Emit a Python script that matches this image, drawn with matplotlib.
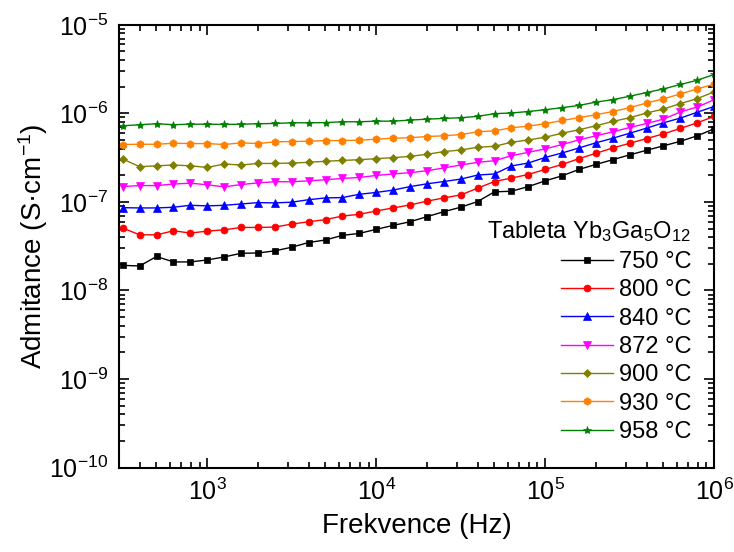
import numpy as np
import matplotlib.pyplot as plt
from matplotlib.ticker import LogLocator, NullFormatter

plt.rcParams['font.family'] = ['Liberation Sans', 'DejaVu Sans']
plt.rcParams['mathtext.fontset'] = 'custom'
plt.rcParams['mathtext.rm'] = 'Liberation Sans'
plt.rcParams['mathtext.it'] = 'Liberation Sans:italic'
plt.rcParams['mathtext.bf'] = 'Liberation Sans:bold'

# measurement frequencies (Hz)
freq = [316, 398, 501, 631, 794, 1000, 1259, 1585, 1995, 2512, 3162, 3981,
        5012, 6310, 7943, 10000, 12589, 15849, 19953, 25119, 31623, 39811,
        50119, 63096, 79433, 100000, 125893, 158489, 199526, 251189, 316228,
        398107, 501187, 630957, 794328, 1000000]

y_750 = [1.92e-8, 1.89e-8, 2.42e-8, 2.10e-8, 2.10e-8, 2.21e-8, 2.39e-8, 2.63e-8,
         2.65e-8, 2.80e-8, 3.08e-8, 3.48e-8, 3.72e-8, 4.19e-8, 4.41e-8, 4.90e-8,
         5.43e-8, 5.97e-8, 6.81e-8, 7.76e-8, 8.71e-8, 1.01e-7, 1.30e-7, 1.32e-7,
         1.49e-7, 1.73e-7, 1.97e-7, 2.33e-7, 2.65e-7, 3.00e-7, 3.40e-7, 3.83e-7,
         4.30e-7, 4.84e-7, 5.58e-7, 6.70e-7]
y_800 = [5.07e-8, 4.25e-8, 4.25e-8, 4.72e-8, 4.45e-8, 4.68e-8, 4.84e-8, 5.15e-8,
         5.15e-8, 5.20e-8, 5.62e-8, 5.97e-8, 6.31e-8, 6.93e-8, 7.24e-8, 7.91e-8,
         8.55e-8, 9.25e-8, 1.02e-7, 1.11e-7, 1.20e-7, 1.43e-7, 1.70e-7, 1.86e-7,
         2.04e-7, 2.33e-7, 2.65e-7, 3.08e-7, 3.54e-7, 4.07e-7, 4.59e-7, 5.20e-7,
         5.87e-7, 6.76e-7, 7.83e-7, 9.25e-7]
y_840 = [8.61e-8, 8.55e-8, 8.55e-8, 8.71e-8, 9.16e-8, 9.02e-8, 9.16e-8, 9.48e-8,
         9.82e-8, 9.75e-8, 9.93e-8, 1.06e-7, 1.11e-7, 1.12e-7, 1.22e-7, 1.28e-7,
         1.36e-7, 1.49e-7, 1.60e-7, 1.70e-7, 1.81e-7, 2.01e-7, 2.07e-7, 2.55e-7,
         2.75e-7, 3.18e-7, 3.57e-7, 4.07e-7, 4.65e-7, 5.24e-7, 5.97e-7, 6.81e-7,
         7.83e-7, 8.85e-7, 1.03e-6, 1.20e-6]
y_872 = [1.49e-7, 1.53e-7, 1.53e-7, 1.59e-7, 1.63e-7, 1.56e-7, 1.48e-7, 1.57e-7,
         1.64e-7, 1.69e-7, 1.69e-7, 1.73e-7, 1.78e-7, 1.84e-7, 1.89e-7, 1.99e-7,
         2.07e-7, 2.14e-7, 2.25e-7, 2.42e-7, 2.61e-7, 2.80e-7, 2.92e-7, 3.33e-7,
         3.63e-7, 3.97e-7, 4.45e-7, 5.02e-7, 5.58e-7, 6.19e-7, 6.93e-7, 7.69e-7,
         8.61e-7, 1.04e-6, 1.18e-6, 1.43e-6]
y_900 = [3.05e-7, 2.50e-7, 2.56e-7, 2.61e-7, 2.56e-7, 2.45e-7, 2.68e-7, 2.61e-7,
         2.72e-7, 2.72e-7, 2.75e-7, 2.80e-7, 2.88e-7, 2.94e-7, 3.00e-7, 3.08e-7,
         3.16e-7, 3.27e-7, 3.45e-7, 3.70e-7, 3.86e-7, 4.14e-7, 4.25e-7, 4.72e-7,
         5.01e-7, 5.38e-7, 5.97e-7, 6.53e-7, 7.24e-7, 8.11e-7, 8.93e-7, 1.01e-6,
         1.12e-6, 1.29e-6, 1.47e-6, 1.75e-6]
y_930 = [4.45e-7, 4.48e-7, 4.48e-7, 4.60e-7, 4.56e-7, 4.56e-7, 4.45e-7, 4.65e-7,
         4.56e-7, 4.77e-7, 4.81e-7, 4.84e-7, 4.93e-7, 4.93e-7, 4.98e-7, 5.11e-7,
         5.25e-7, 5.30e-7, 5.48e-7, 5.58e-7, 5.77e-7, 6.19e-7, 6.35e-7, 6.87e-7,
         7.18e-7, 7.64e-7, 8.32e-7, 8.93e-7, 9.66e-7, 1.05e-6, 1.16e-6, 1.31e-6,
         1.46e-6, 1.66e-6, 1.89e-6, 2.14e-6]
y_958 = [7.24e-7, 7.45e-7, 7.64e-7, 7.45e-7, 7.55e-7, 7.55e-7, 7.50e-7, 7.55e-7,
         7.64e-7, 7.69e-7, 7.83e-7, 7.83e-7, 7.87e-7, 8.04e-7, 8.04e-7, 8.17e-7,
         8.17e-7, 8.39e-7, 8.61e-7, 8.77e-7, 8.93e-7, 9.25e-7, 9.93e-7, 1.01e-6,
         1.05e-6, 1.10e-6, 1.16e-6, 1.23e-6, 1.34e-6, 1.43e-6, 1.56e-6, 1.72e-6,
         1.89e-6, 2.12e-6, 2.37e-6, 2.75e-6]

labels = ['750 °C', '800 °C', '840 °C', '872 °C', '900 °C', '930 °C', '958 °C']
series = [y_750, y_800, y_840, y_872, y_900, y_930, y_958]
colors = ['#000000', '#ff0000', '#0000ff', '#ff00ff', '#808000', '#ff8000', '#008000']
markers = ['s', 'o', '^', 'v', 'D', 'h', '*']
msizes = [4.5, 5, 5.5, 5.5, 4.5, 5.5, 6]

fig = plt.figure(figsize=(7.34, 5.52), dpi=100)
ax = fig.add_axes([0.162, 0.153, 0.811, 0.802])

for y, lab, c, m, ms in zip(series, labels, colors, markers, msizes):
    ax.plot(freq, y, color=c, marker=m, markersize=ms, linewidth=1.0,
            markeredgewidth=0.5, label=lab)

ax.set_xscale('log')
ax.set_yscale('log')
ax.set_xlim(300, 1e6)
ax.set_ylim(1e-10, 1e-5)

ax.xaxis.set_major_locator(LogLocator(base=10, numticks=20))
ax.xaxis.set_minor_locator(LogLocator(base=10, subs=np.arange(2, 10), numticks=20))
ax.yaxis.set_major_locator(LogLocator(base=10, numticks=20))
ax.yaxis.set_minor_locator(LogLocator(base=10, subs=np.arange(2, 10), numticks=20))
ax.xaxis.set_minor_formatter(NullFormatter())
ax.yaxis.set_minor_formatter(NullFormatter())

ax.tick_params(which='both', direction='in', top=True, right=True, width=1.2)
ax.tick_params(which='major', length=7, labelsize=18, pad=8)
ax.tick_params(which='minor', length=4)
for s in ax.spines.values():
    s.set_linewidth(1.5)

ax.set_xlabel('Frekvence (Hz)', fontsize=20, labelpad=6)
ax.set_ylabel('Admitance (S·cm$^{-1}$)', fontsize=20, labelpad=-1)

leg = ax.legend(title='Tableta Yb$_3$Ga$_5$O$_{12}$', loc='lower right',
                bbox_to_anchor=(0.977, 0.034), frameon=False, fontsize=17,
                title_fontsize=17, handlelength=2.2, handletextpad=0.25,
                labelspacing=0.27, borderaxespad=0.0)
leg._legend_box.align = 'right'

fig.savefig('out.png', dpi=100)
